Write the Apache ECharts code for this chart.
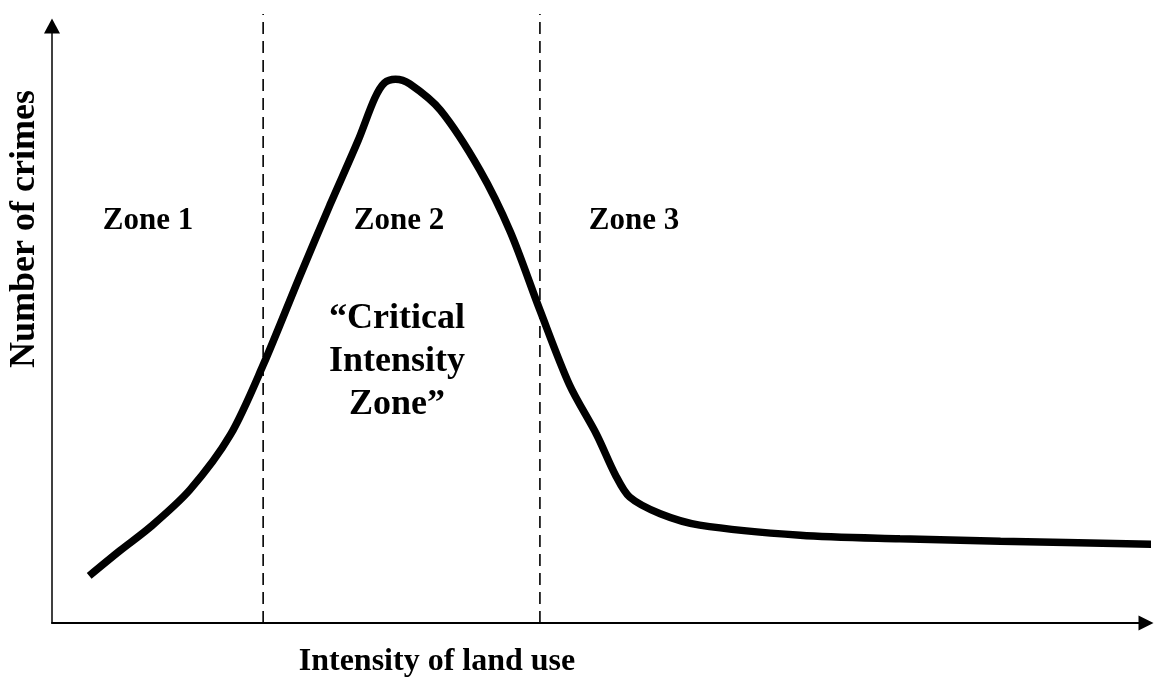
<!DOCTYPE html>
<html>
<head>
<meta charset="utf-8">
<title>Critical intensity zone</title>
<script src="https://cdn.jsdelivr.net/npm/echarts@6/dist/echarts.min.js"></script>
<style>
	html, body { margin: 0; padding: 0; background: #fff; }
	#chart { width: 1154px; height: 677px; }
</style>
</head>
<body>
<div id="chart"></div>
<script>
/*曲线数据 (intensity, crimes)*/
var intensity = [3.4, 6.2, 9.0, 12.6, 16.3, 19.3, 22.7, 25.4, 28.0, 29.5, 30.4, 31.4, 32.7, 35.5, 39.1, 41.9, 44.6, 47.3, 49.8, 51.5, 52.8, 55.6, 59.2, 68.4, 77.5, 86.7, 100.5];
var crimes = [7.9, 12.1, 16.1, 22.3, 31.5, 43.2, 58.3, 70.0, 80.9, 87.9, 90.5, 91.1, 90.3, 85.9, 75.9, 65.5, 52.4, 39.9, 31.5, 24.8, 21.1, 18.3, 16.4, 14.7, 14.1, 13.7, 13.2];
/*分区边界*/
var zoneBounds = [19.3, 44.6];
var zoneTop = 102;
var zoneNames = ['Zone 1', 'Zone 2', 'Zone 3'];
var criticalText = '\u201cCritical\nIntensity\nZone\u201d';

var fontFam = '"Liberation Serif", "Times New Roman", serif';

function buildCurve(){
	var pts = [];
	for (var i = 0; i < intensity.length; i++) {
		pts.push([intensity[i], crimes[i]]);
	}
	return pts;
}

function buildBoundSeries(){
	return zoneBounds.map(function(b){
		return {
			type : 'line',
			data : [[b, 0], [b, zoneTop]],
			symbol : 'none',
			clip : false,
			silent : true,
			lineStyle : { color : '#000', width : 1.6, type : [12, 7] }
		};
	});
}

function label(text, x, y, size){
	return {
		type : 'text', x : x, y : y,
		style : { text : text, font : 'bold ' + size + 'px ' + fontFam, textAlign : 'center', textVerticalAlign : 'middle', fill : '#000' }
	};
}

var chart = echarts.init(document.getElementById('chart'));
var critical = label(criticalText, 397, 362, 36);
critical.style.lineHeight = 43;
var yTitle = label('Number of crimes', 25, 229, 36);
yTitle.rotation = Math.PI / 2;

var option = {
	animation : false,
	backgroundColor : '#fff',
	grid : { left : 52, right : 8, top : 26, bottom : 54 },
	xAxis : {
		type : 'value',
		min : 0,
		max : 100,
		axisLine : {
			lineStyle : { color : '#000', width : 2 },
			symbol : ['none', 'triangle'],
			symbolSize : [15, 15]
		},
		axisTick : { show : false },
		axisLabel : { show : false },
		splitLine : { show : false }
	},
	yAxis : {
		type : 'value',
		min : 0,
		max : 100,
		axisLine : {
			show : true,
			lineStyle : { color : '#000', width : 1.5 },
			symbol : ['none', 'triangle'],
			symbolSize : [16, 15]
		},
		axisTick : { show : false },
		axisLabel : { show : false },
		splitLine : { show : false }
	},
	graphic : [
		label(zoneNames[0], 148, 221, 31),
		label(zoneNames[1], 399, 221, 31),
		label(zoneNames[2], 634, 221, 31),
		critical,
		label('Intensity of land use', 437, 662, 32),
		yTitle
	],
	series : [ {
		type : 'line',
		data : buildCurve(),
		symbol : 'none',
		smooth : 0.3,
		clip : false,
		lineStyle : { color : '#000', width : 7.5, cap : 'butt' }
	} ].concat(buildBoundSeries())
};
chart.setOption(option);
</script>
</body>
</html>
